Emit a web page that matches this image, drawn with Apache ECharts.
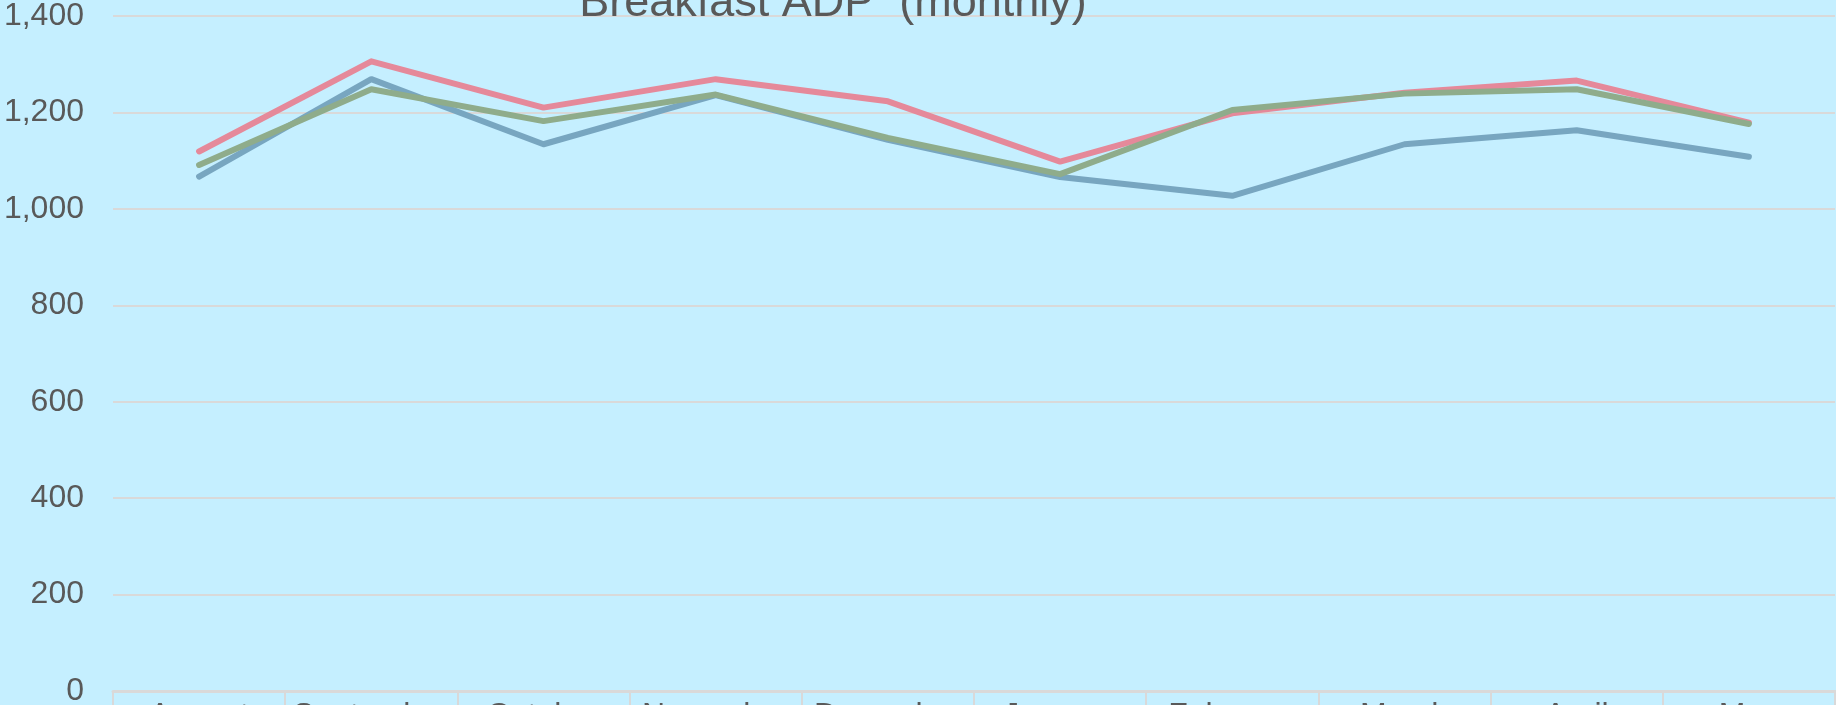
<!DOCTYPE html>
<html>
<head>
<meta charset="utf-8">
<script src="https://cdn.jsdelivr.net/npm/echarts@6/dist/echarts.min.js"></script>
<style>
  html, body { margin: 0; padding: 0; background: #C5EFFF; }
  #main { width: 1836px; height: 705px; }
</style>
</head>
<body>
<div id="main"></div>
<script>
// months and breakfast ADP
var months = ['August', 'September', 'October', 'November', 'December', 'January', 'February', 'March', 'April', 'May'];
var blueVals  = [1067, 1269, 1134, 1236, 1143, 1066, 1027, 1134, 1163, 1108];
var pinkVals  = [1119, 1306, 1210, 1269, 1223, 1098, 1198, 1241, 1266, 1179];
var greenVals = [1091, 1248, 1182, 1237, 1147, 1072, 1205, 1239, 1248, 1176];

var chart = echarts.init(document.getElementById('main'));
var font = 'Liberation Sans, Arial, sans-serif';

function lineSeries(name, vals, color) {
  return {
    name: name,
    type: 'line',
    data: vals,
    symbol: 'none',
    lineStyle: { color: color, width: 6, cap: 'round', join: 'round' },
    itemStyle: { color: color }
  };
}

chart.setOption({
  backgroundColor: '#C5EFFF',
  animation: false,
  title: {
    text: 'Breakfast ADP  (monthly)',
    left: 828,
    top: -24,
    textAlign: 'center',
    textStyle: { color: '#595959', fontSize: 45, fontWeight: 'normal', fontFamily: font }
  },
  grid: { left: 113, right: 1, top: 16, bottom: 14, containLabel: false, outerBoundsMode: 'none' },
  xAxis: {
    type: 'category',
    data: months,
    boundaryGap: true,
    axisLine: { lineStyle: { color: '#D9D9D9', width: 3 } },
    axisTick: { show: true, length: 40, lineStyle: { color: '#D9D9D9', width: 2 } },
    axisLabel: { interval: 0, color: '#595959', fontSize: 32, fontFamily: font, margin: 9, verticalAlign: 'top' }
  },
  yAxis: {
    type: 'value',
    min: 0,
    max: 1400,
    interval: 200,
    axisLine: { show: false },
    axisTick: { show: false },
    splitLine: { lineStyle: { color: '#D9D9D9', width: 2 } },
    axisLabel: {
      color: '#595959', fontSize: 32, fontFamily: font, margin: 29,
      formatter: function (v) { return v.toLocaleString('en-US'); }
    }
  },
  series: [
    lineSeries('Series 1', blueVals, '#78A6C0'),
    lineSeries('Series 2', pinkVals, '#E5899A'),
    lineSeries('Series 3', greenVals, '#8FAC8B')
  ]
});
</script>
</body>
</html>
